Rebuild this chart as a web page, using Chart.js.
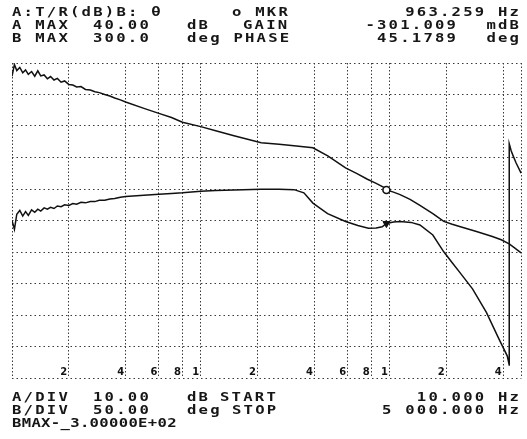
<!DOCTYPE html>
<html><head><meta charset="utf-8">
<script src="https://cdn.jsdelivr.net/npm/chart.js@4.4.1/dist/chart.umd.min.js"></script>
<style>html,body{margin:0;padding:0;background:#fff;}canvas{display:block;}</style>
</head><body>
<canvas id="c" width="527" height="439"></canvas>
<script>
// ---- data ----
const gainFreq = [10,10.3,10.6,11,11.4,11.8,12.2,12.7,13.2,13.7,14.2,14.8,15.4,16,16.7,17.4,18.2,19,20,21,22,23.2,24.5,26,27.5,29,31,33,35,37.5,40,
  50,60,70,80,100,120,150,209,260,312,393,471,585,673,764,850,928,963.259,1050,1138,1285,1450,1697,1939,2150,2352,2890,3508,3910,4309,4600,4982];
const gainDb = [35.8,39.5,37.6,38.6,36.9,37.8,36.4,37.3,35.8,37.5,35.9,36.2,35.0,35.7,34.6,35.1,33.9,34.3,33.2,33.0,32.4,32.5,31.6,31.4,30.9,30.6,30.0,29.5,28.9,28.3,27.6,
  25.6,24.0,22.7,21.2,19.8,18.5,16.9,14.7,14.2,13.7,13.1,10.5,6.7,4.9,3.1,1.8,0.6,-0.3,-1.0,-1.8,-3.3,-5.2,-7.8,-10.3,-11.2,-11.9,-13.5,-15.1,-16.1,-17.4,-18.7,-20.3];
const phaseFreq = [10,10.3,10.6,11,11.4,11.8,12.2,12.7,13.2,13.7,14.2,14.8,15.4,16,16.7,17.4,18.2,19,20,21,22,23.2,24.5,26,27.5,29,31,33,35,37.5,40,
  50,60,70,80,100,120,150,209,260,312,352,393,470,585,680,773,850,915,963.259,1050,1138,1300,1450,1697,1939,2150,2352,2754,3262,3816,4206,4309,4310,4413,4521,4688,4982];
const phaseDeg = [50,36,60,66,57,64,58,67,63,68,65,70,68,71,69,73,72,75,74,77,76,79,78,80,80,82,82,84,85,87,88,
  90,91.7,93,94,96.5,97.5,98.5,99.7,99.7,99,94,77.6,61,48.4,42,37.7,38,40,45.2,47.5,48.4,47,43,27,0.3,-17,-32,-58.5,-95.8,-139,-164.8,-179.4,171.8,160.6,152.6,141.3,125.3];
const markerFreq = [963.259];
const markerGain = [-0.301];
const markerPhase = [45.1789];
const xTickValues = [10,20,40,60,80,100,200,400,600,800,1000,2000,4000,5000];
const xTickLabels = ['','2','4','6','8','1','2','4','6','8','1','2','4',''];
const gainRange = [-60, 40];
const phaseRange = [-200, 300];

// ---- annotation text ----
const headerText = [
  ['A:T/R(dB)B: θ', 'o MKR', '963.259 Hz'],
  ['A MAX', '40.00', 'dB', 'GAIN', '-301.009', 'mdB'],
  ['B MAX', '300.0', 'deg PHASE', '45.1789', 'deg']
];
const footerText = [
  ['A/DIV', '10.00', 'dB', 'START', '10.000 Hz'],
  ['B/DIV', '50.00', 'deg', 'STOP', '5 000.000 Hz'],
  ['BMAX-_3.00000E+02']
];

// ---- layout of the annotation text (not data) ----
const textLayout = [
  // [row, index, x, baseline, align, pitch]
  ['h',0,0, 12,16,'l',11.6], ['h',0,1, 232,16,'l',11.6], ['h',0,2, 519,16,'r',11.6],
  ['h',1,0, 12,29,'l',11.6], ['h',1,1, 93,29,'l',11.6], ['h',1,2, 187,29,'l',11.6], ['h',1,3, 243,29,'l',11.6], ['h',1,4, 456,29,'r',11.6], ['h',1,5, 519,29,'r',11.6],
  ['h',2,0, 12,42,'l',11.6], ['h',2,1, 93,42,'l',11.6], ['h',2,2, 187,42,'l',11.6], ['h',2,3, 456,42,'r',11.6], ['h',2,4, 519,42,'r',11.6],
  ['f',0,0, 12,401,'l',11.6], ['f',0,1, 93,401,'l',11.6], ['f',0,2, 187,401,'l',11.6], ['f',0,3, 220,401,'l',11.6], ['f',0,4, 519,401,'r',11.6],
  ['f',1,0, 12,414,'l',11.6], ['f',1,1, 93,414,'l',11.6], ['f',1,2, 187,414,'l',11.6], ['f',1,3, 232,414,'l',11.6], ['f',1,4, 519,414,'r',11.6],
  ['f',2,0, 12,427,'l',9.7]
];

const FONT = 'bold 12px "DejaVu Sans Mono"';
const SX = 1.3;
function drawStr(ctx, s, x, y, align, pitch) {
  ctx.save();
  ctx.font = FONT;
  ctx.letterSpacing = '0px';
  const adv = ctx.measureText('0').width;
  const ls = pitch / SX - adv;
  const w = s.length * pitch - ls * SX;
  const x0 = align === 'r' ? x - w : x;
  ctx.translate(x0, y);
  ctx.scale(SX, 1);
  ctx.letterSpacing = ls + 'px';
  ctx.textBaseline = 'alphabetic';
  ctx.textAlign = 'left';
  ctx.fillText(s, 0, 0);
  ctx.restore();
}

const textPlugin = {
  id: 'hpText',
  afterDraw(chart) {
    const ctx = chart.ctx;
    ctx.save();
    ctx.fillStyle = '#161616';
    for (const [part, r, i, x, y, a, p] of textLayout) {
      const src = part === 'h' ? headerText : footerText;
      drawStr(ctx, src[r][i], x, y, a, p);
    }
    ctx.restore();
  }
};

const pts = (xs, ys) => xs.map((f, i) => ({x: f, y: ys[i]}));
const gridColor = '#3a3a3a';

new Chart(document.getElementById('c'), {
  type: 'line',
  data: {
    datasets: [
      { label: 'MKR A', data: pts(markerFreq, markerGain), yAxisID: 'y', showLine: false,
        pointStyle: 'circle', pointRadius: 3.5, pointBackgroundColor: '#fff', pointBorderColor: '#111', pointBorderWidth: 1.6 },
      { label: 'MKR B', data: pts(markerFreq, markerPhase), yAxisID: 'y2', showLine: false,
        pointStyle: 'triangle', pointRotation: 180, pointRadius: 4, pointBackgroundColor: '#111', pointBorderColor: '#111', pointBorderWidth: 1 },
      { label: 'GAIN', data: pts(gainFreq, gainDb), yAxisID: 'y', borderColor: '#111', borderWidth: 1.5,
        pointRadius: 0, tension: 0, fill: false },
      { label: 'PHASE', data: pts(phaseFreq, phaseDeg), yAxisID: 'y2', borderColor: '#111', borderWidth: 1.5,
        pointRadius: 0, tension: 0, fill: false }
    ]
  },
  options: {
    responsive: false,
    animation: false,
    devicePixelRatio: 1,
    layout: { padding: { left: 12, right: 2, top: 63, bottom: 61 } },
    plugins: { legend: { display: false }, tooltip: { enabled: false }, title: { display: false } },
    scales: {
      x: {
        type: 'logarithmic', min: 10, max: 5000, position: 'bottom',
        afterBuildTicks: (s) => { s.ticks = xTickValues.map(v => ({ value: v })); },
        ticks: {
          autoSkip: false, maxRotation: 0, minRotation: 0, padding: -12, labelOffset: -5,
          color: '#111', font: { family: 'DejaVu Sans', size: 10, weight: 'bold' },
          callback: (v) => { const k = xTickValues.indexOf(v); return k >= 0 ? xTickLabels[k] : ''; }
        },
        grid: { color: gridColor, lineWidth: 1, drawTicks: false },
        border: { display: false, dash: [1.5, 2] }
      },
      y: {
        type: 'linear', min: gainRange[0], max: gainRange[1], position: 'left',
        ticks: { display: false, stepSize: 10 },
        grid: { color: gridColor, lineWidth: 1, drawTicks: false },
        border: { display: false, dash: [1.5, 3] }
      },
      y2: {
        type: 'linear', min: phaseRange[0], max: phaseRange[1], position: 'right', display: false
      }
    }
  },
  plugins: [textPlugin]
});
</script>
</body></html>
